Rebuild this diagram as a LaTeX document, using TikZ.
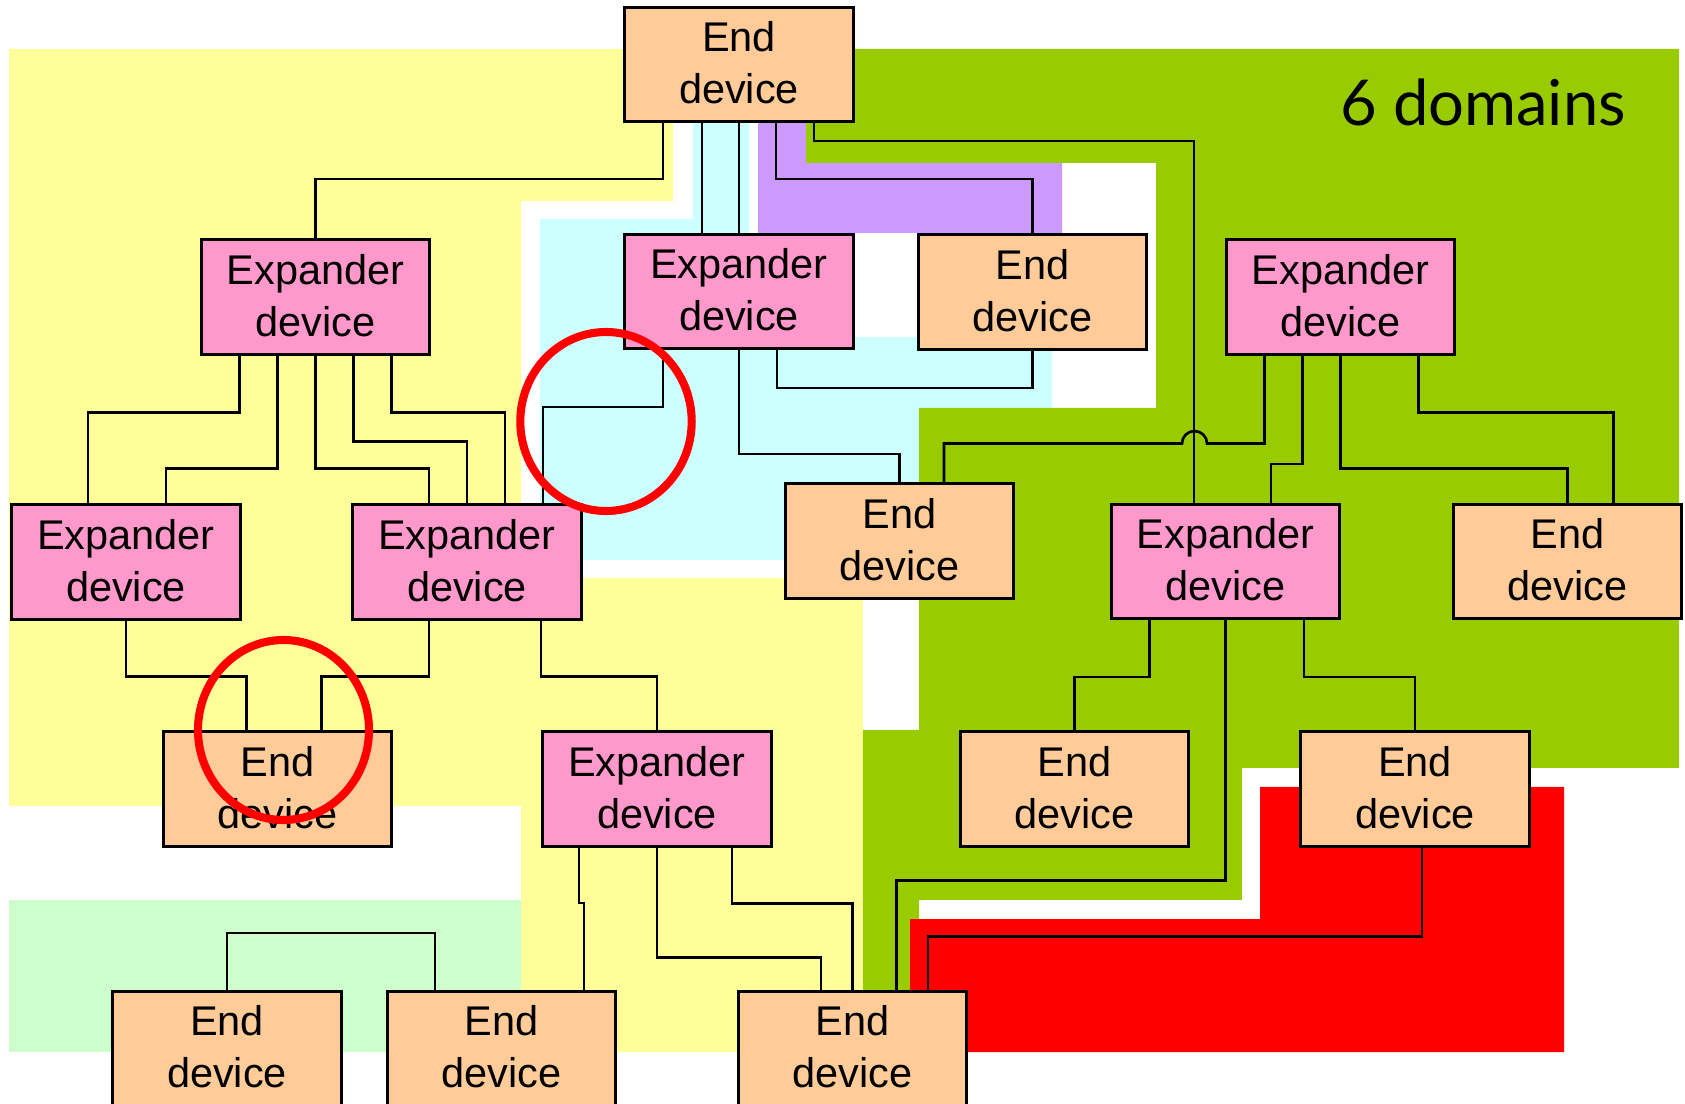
\documentclass[tikz,border=0pt]{standalone}
\usepackage{fontspec}
\setmainfont{Liberation Sans}
\newfontfamily\domainfont{Lato}
\usepackage{tikz}
\usetikzlibrary{calc}
\usepackage{xcolor}
\definecolor{yellowzone}{HTML}{FFFF99}
\definecolor{mintzone}{HTML}{CCFFCC}
\definecolor{cyanzone}{HTML}{CCFFFF}
\definecolor{purplezone}{HTML}{CC99FF}
\definecolor{greenzone}{HTML}{99CC00}
\definecolor{redzone}{HTML}{FF0000}
\definecolor{endfill}{HTML}{FFCC99}
\definecolor{expfill}{HTML}{FF99CC}
\tikzset{
  dev/.style={draw, line width=0.85pt, minimum width=2.28cm, minimum height=1.14cm,
    inner sep=0pt, align=center, text depth=1pt, font=\fontsize{11.8}{14.7}\selectfont},
  enddev/.style={dev, fill=endfill},
  expdev/.style={dev, fill=expfill},
  link/.style={line width=0.75pt},
  ring/.style={draw=redzone, line width=2.3pt}
}

\begin{document}
\begin{tikzpicture}[x=0.01cm, y=-0.01cm]
\useasboundingbox (0,0) rectangle (1685,1104);
% domains
\fill[yellowzone] (9,49) -- (673,49) -- (673,201) -- (521,201) -- (521,578) -- (863,578)
  -- (863,1052) -- (521,1052) -- (521,806) -- (9,806) -- cycle;
\fill[mintzone] (9,900) rectangle (521,1052);
\fill[cyanzone] (693,122) -- (749,122) -- (749,337) -- (1052,337) -- (1052,408) -- (919,408)
  -- (919,560) -- (540,560) -- (540,219) -- (693,219) -- cycle;
\fill[purplezone] (758,122) -- (806,122) -- (806,163) -- (1062,163) -- (1062,233) -- (758,233) -- cycle;
\fill[greenzone] (806,49) -- (1679,49) -- (1679,768) -- (1242,768) -- (1242,900) -- (919,900)
  -- (919,919) -- (910,919) -- (910,1052) -- (863,1052) -- (863,730) -- (919,730) -- (919,408)
  -- (1156,408) -- (1156,163) -- (806,163) -- cycle;
\fill[redzone] (1260,787) -- (1564,787) -- (1564,1052) -- (910,1052) -- (910,919) -- (1260,919) -- cycle;
\node[font=\domainfont\fontsize{18}{22}\selectfont, anchor=base] (title) at (1483,125.7) {6 domains};
% devices
\node[enddev] (etop) at (739,64.5) {End\\device};
\node[expdev] (xp1) at (315.5,297) {Expander\\device};
\node[expdev] (xp2) at (739,291.5) {Expander\\device};
\node[enddev] (end2) at (1032.5,292) {End\\device};
\node[expdev] (xp3) at (1340.5,297) {Expander\\device};
\node[expdev] (xp4) at (126,562) {Expander\\device};
\node[expdev] (xp5) at (467,562) {Expander\\device};
\node[enddev] (end3) at (899.5,541) {End\\device};
\node[expdev] (xp6) at (1225.5,561.5) {Expander\\device};
\node[enddev] (end4) at (1567.5,561.5) {End\\device};
\node[enddev] (end5) at (277.5,789) {End\\device};
\node[expdev] (xp7) at (657,789) {Expander\\device};
\node[enddev] (end6) at (1074.5,789) {End\\device};
\node[enddev] (end7) at (1415,789) {End\\device};
\node[enddev] (end8) at (227,1048.5) {End\\device};
\node[enddev] (end9) at (501.5,1048.5) {End\\device};
\node[enddev] (end10) at (852.5,1048.5) {End\\device};
% links from the top end device
\draw[link] ($(etop.south)+(-76,0)$) -- ++(0,56) -| (xp1.north);
\draw[link] ($(etop.south)+(-37,0)$) -- ($(xp2.north)+(-37,0)$);
\draw[link] (etop.south) -- (xp2.north);
\draw[link] ($(etop.south)+(37,0)$) -- ++(0,56) -| (end2.north);
\draw[link] ($(etop.south)+(75,0)$) -- ++(0,18) -| ($(xp6.north)+(-31.5,0)$);
% links from the upper expanders
\draw[link] ($(xp2.south)+(38,0)$) -- ++(0,38) -| (end2.south);
\draw[link] ($(xp2.south)+(-76,0)$) -- ++(0,57) -| ($(xp5.north)+(76,0)$);
\draw[link] (xp2.south) -- ++(0,104) -| (end3.north);
\draw[link] ($(xp3.south)+(-76,0)$) -- ++(0,88) -- ++(-57.5,0)
  arc[start angle=0, end angle=-180, radius=12.5] -| ($(end3.north)+(44.5,0)$);
\draw[link] ($(xp3.south)+(-38,0)$) -- ++(0,108.5) -| ($(xp6.north)+(45.5,0)$);
\draw[link] (xp3.south) -- ++(0,113) -| (end4.north);
\draw[link] ($(xp3.south)+(78,0)$) -- ++(0,57) -| ($(end4.north)+(46,0)$);
\draw[link] ($(xp1.south)+(-76,0)$) -- ++(0,57) -| ($(xp4.north)+(-38,0)$);
\draw[link] ($(xp1.south)+(-38,0)$) -- ++(0,113) -| ($(xp4.north)+(40,0)$);
\draw[link] (xp1.south) -- ++(0,113) -| ($(xp5.north)+(-38,0)$);
\draw[link] ($(xp1.south)+(38,0)$) -- ++(0,86) -| (xp5.north);
\draw[link] ($(xp1.south)+(76,0)$) -- ++(0,57) -| ($(xp5.north)+(38,0)$);
% links from the middle row
\draw[link] (xp4.south) -- ++(0,56) -| ($(end5.north)+(-31,0)$);
\draw[link] ($(xp5.south)+(-38,0)$) -- ++(0,56) -| ($(end5.north)+(44,0)$);
\draw[link] ($(xp5.south)+(74,0)$) -- ++(0,56) -| (xp7.north);
\draw[link] ($(xp6.south)+(-76,0)$) -- ++(0,57) -| (end6.north);
\draw[link] ($(xp6.south)+(78.5,0)$) -- ++(0,57) -| (end7.north);
\draw[link] (xp6.south) -- ++(0,260.5) -| ($(end10.north)+(44,0)$);
% links to the bottom row
\draw[link] ($(end7.south)+(7,0)$) -- ++(0,89) -| ($(end10.north)+(75.5,0)$);
\draw[link] ($(xp7.south)+(-78,0)$) -- ++(0,55.6) -| ($(end9.north)+(82.5,0)$);
\draw[link] (xp7.south) -- ++(0,110) -| ($(end10.north)+(-31.5,0)$);
\draw[link] ($(xp7.south)+(75,0)$) -- ++(0,56) -| (end10.north);
\draw[link] (end8.north) -- ++(0,-57) -| ($(end9.north)+(-66.5,0)$);
% marked spots
\draw[ring] (606,421.5) ellipse [x radius=85.7, y radius=89.5];
\draw[ring] (283.5,730) ellipse [x radius=85.5, y radius=90];
\end{tikzpicture}
\end{document}
